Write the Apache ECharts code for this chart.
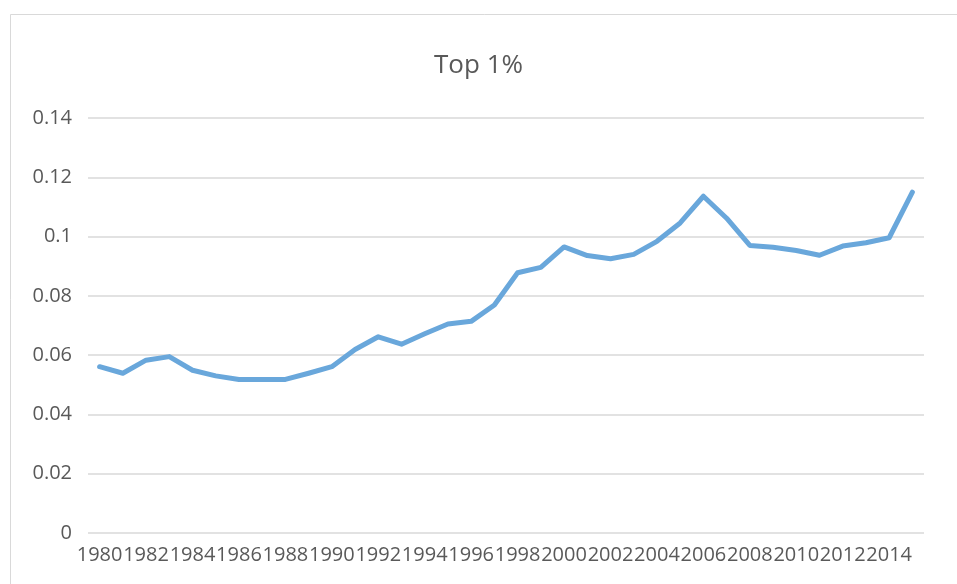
<!DOCTYPE html>
<html>
<head>
<meta charset="utf-8">
<script src="https://cdn.jsdelivr.net/npm/echarts@6/dist/echarts.min.js"></script>
<style>
html,body{margin:0;padding:0;background:#fff;}
#c{width:957px;height:584px;}
</style>
</head>
<body>
<div id="c"></div>
<script>
const years = ['1980','1981','1982','1983','1984','1985','1986','1987','1988','1989','1990','1991','1992','1993','1994','1995','1996','1997','1998','1999','2000','2001','2002','2003','2004','2005','2006','2007','2008','2009','2010','2011','2012','2013','2014','2015'];
const top1 = [0.0561,0.0539,0.0583,0.0595,0.0549,0.0530,0.0518,0.0518,0.0518,0.0539,0.0561,0.0619,0.0662,0.0637,0.0672,0.0705,0.0714,0.0769,0.0878,0.0896,0.0965,0.0936,0.0925,0.0940,0.0984,0.1046,0.1136,0.1062,0.0970,0.0964,0.0953,0.0937,0.0968,0.0979,0.0996,0.1150];
const yTicks = [0,0.02,0.04,0.06,0.08,0.1,0.12,0.14];

const chart = echarts.init(document.getElementById('c'));
const font = 'Open Sans';
chart.setOption({
  animation:false,
  backgroundColor:'#fff',
  graphic:[{type:'rect',shape:{x:10.5,y:14.5,width:1000,height:700},style:{fill:'none',stroke:'#D9D9D9',lineWidth:1}}],
  title:{text:'Top 1%',left:'center',top:48,textStyle:{color:'#595959',fontSize:26,fontWeight:'normal',fontFamily:font}},
  grid:{left:88,right:33,top:118,bottom:51,containLabel:false},
  xAxis:{type:'category',data:years,boundaryGap:true,
    axisLine:{show:false},axisTick:{show:false},
    axisLabel:{interval:1,color:'#595959',fontSize:20,fontFamily:font,margin:12,hideOverlap:false}},
  yAxis:{type:'value',min:0,max:0.14,interval:0.02,
    axisLine:{show:false},axisTick:{show:false},
    splitLine:{lineStyle:{color:'#D9D9D9',width:1.5}},
    axisLabel:{color:'#595959',fontSize:20,fontFamily:font,margin:16,
      formatter:function(v){const s=yTicks.find(t=>Math.abs(t-v)<1e-9);return String(s!==undefined?s:+v.toFixed(2));}}},
  series:[{type:'line',data:top1,showSymbol:false,symbol:'none',
    lineStyle:{color:'#69A7DB',width:5,cap:'round',join:'round'}}]
});
</script>
</body>
</html>
